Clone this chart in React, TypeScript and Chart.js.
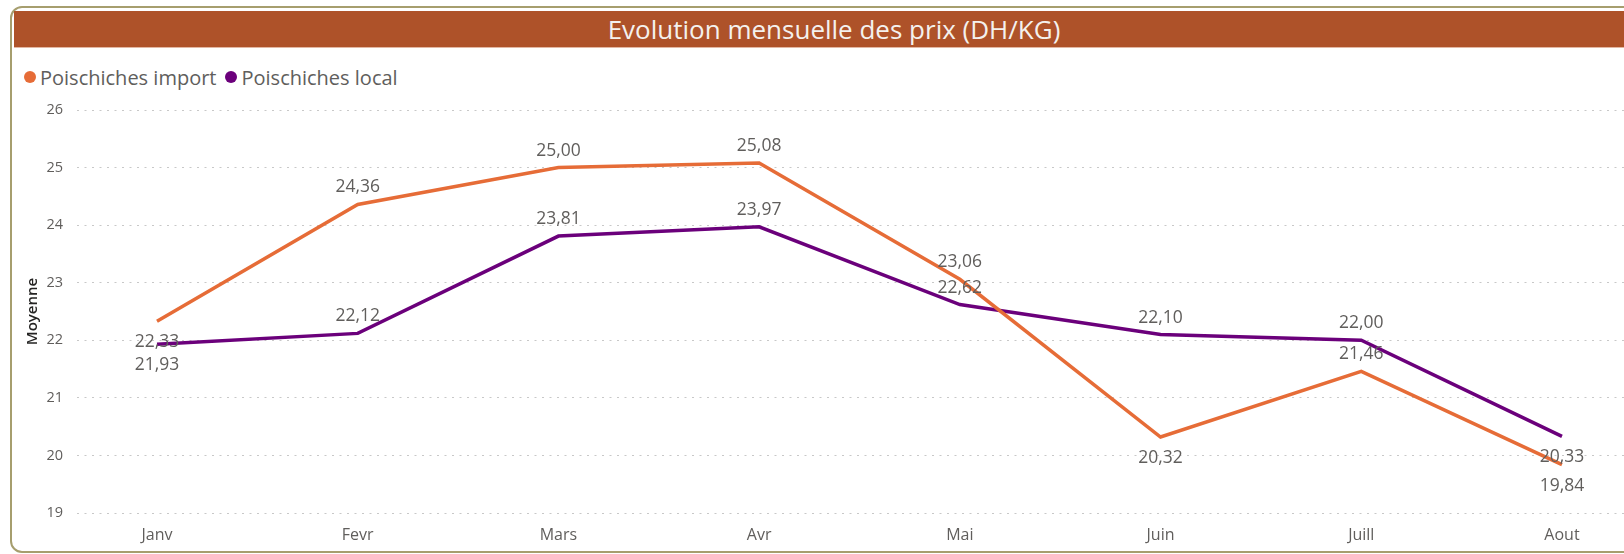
import React, { useEffect, useRef } from "react";
import { Chart, registerables } from "chart.js";

Chart.register(...registerables);

const months = ["Janv", "Fevr", "Mars", "Avr", "Mai", "Juin", "Juill", "Aout"];
const importValues = [22.33, 24.36, 25.0, 25.08, 23.06, 20.32, 21.46, 19.84];
const localValues = [21.93, 22.12, 23.81, 23.97, 22.62, 22.1, 22.0, 20.33];
const yTicks = [19, 20, 21, 22, 23, 24, 25, 26];
const seriesNames = ["Poischiches import", "Poischiches local"];

// label placement (style only)
const importLabelPos = ["below", "above", "above", "above", "above", "below", "above", "below"];
const localLabelPos = ["below", "above", "above", "above", "above", "above", "above", "below"];

const ORANGE = "#E66C37";
const PURPLE = "#6B007B";
const TEXT = "#605E5C";
const FONT = "'Open Sans', 'Noto Sans', sans-serif";

const fmt = (v: number) => v.toFixed(2).replace(".", ",");

const labelPlugin = {
  id: "pbiLabels",
  afterDatasetsDraw(chart: any) {
    const ctx = chart.ctx;
    ctx.save();
    ctx.font = `17.5px ${FONT}`;
    ctx.fillStyle = TEXT;
    ctx.textAlign = "center";
    ctx.textBaseline = "middle";
    const posSets = [importLabelPos, localLabelPos];
    chart.data.datasets.forEach((ds: any, di: number) => {
      const meta = chart.getDatasetMeta(di);
      meta.data.forEach((pt: any, i: number) => {
        const pos = posSets[di][i];
        const y = pos === "above" ? pt.y - 17 : pt.y + 21;
        ctx.fillText(fmt(ds.data[i].y), pt.x, y);
      });
    });
    ctx.restore();
  },
};

export default function App() {
  const ref = useRef<HTMLCanvasElement | null>(null);
  useEffect(() => {
    if (!ref.current) return;
    const chart = new Chart(ref.current, {
      type: "line",
      data: {
        datasets: [
          {
            label: seriesNames[0],
            data: importValues.map((v, i) => ({ x: i, y: v })),
            borderColor: ORANGE,
            backgroundColor: ORANGE,
            borderWidth: 3.5,
            pointRadius: 0,
            tension: 0,
          },
          {
            label: seriesNames[1],
            data: localValues.map((v, i) => ({ x: i, y: v })),
            borderColor: PURPLE,
            backgroundColor: PURPLE,
            borderWidth: 3.5,
            pointRadius: 0,
            tension: 0,
          },
        ],
      },
      options: {
        animation: false,
        responsive: false,
        maintainAspectRatio: false,
        layout: { padding: { top: 110, left: 0, right: 0, bottom: 0 } },
        plugins: {
          legend: { display: false },
          tooltip: { enabled: false },
        },
        scales: {
          x: {
            type: "linear",
            min: -0.3986,
            max: 7.309,
            grid: { display: false },
            border: { display: false },
            afterFit: (s: any) => {
              s.height = 41;
            },
            afterBuildTicks: (s: any) => {
              s.ticks = months.map((_, i) => ({ value: i }));
            },
            ticks: {
              autoSkip: false,
              maxRotation: 0,
              padding: 5,
              color: TEXT,
              font: { family: FONT, size: 16 },
              callback: (v: any) => months[v] ?? "",
            },
          },
          y: {
            min: yTicks[0],
            max: yTicks[yTicks.length - 1],
            afterFit: (s: any) => {
              s.width = 77;
            },
            afterBuildTicks: (s: any) => {
              s.ticks = yTicks.map((v) => ({ value: v }));
            },
            grid: { color: "#C8C8C8", lineWidth: 1, drawTicks: false },
            border: { display: false, dash: [2, 5.5] },
            ticks: {
              padding: 14,
              color: TEXT,
              font: { family: FONT, size: 14.5 },
            },
            title: {
              display: true,
              text: "Moyenne",
              color: "#252423",
              font: { family: FONT, size: 15, weight: "600" },
              padding: { top: 24, bottom: 0 },
            },
          },
        },
      },
      plugins: [labelPlugin],
    } as any);
    return () => chart.destroy();
  }, []);

  const legendItem = (name: string, color: string) => (
    <div style={{ display: "flex", alignItems: "center", marginRight: 9 }}>
      <span
        style={{
          width: 12,
          height: 12,
          borderRadius: "50%",
          background: color,
          display: "inline-block",
          marginRight: 4,
        }}
      />
      <span>{name}</span>
    </div>
  );

  return (
    <div
      style={{
        position: "fixed",
        left: 0,
        top: 0,
        width: 1624,
        height: 554,
        overflow: "hidden",
        background: "#ffffff",
        fontFamily: FONT,
      }}
    >
      <div
        style={{
          position: "absolute",
          left: 10,
          top: 6,
          width: 1660,
          height: 547,
          border: "2px solid #A69E6E",
          borderRadius: 12,
          boxSizing: "border-box",
          background: "#fff",
        }}
      />
      <div
        style={{
          position: "absolute",
          left: 14,
          top: 11,
          width: 1640,
          height: 36,
          background: "#AE5229",
          borderBottom: "1px solid #E3B7A2",
          color: "#F4F1EE",
          fontSize: 26,
          lineHeight: "36px",
          textAlign: "center",
          whiteSpace: "nowrap",
        }}
      >
        Evolution mensuelle des prix (DH/KG)
      </div>
      <div
        style={{
          position: "absolute",
          left: 24,
          top: 64,
          height: 26,
          display: "flex",
          alignItems: "center",
          fontSize: 20,
          color: TEXT,
        }}
      >
        {legendItem(seriesNames[0], ORANGE)}
        {legendItem(seriesNames[1], PURPLE)}
      </div>
      <canvas
        ref={ref}
        width={1624}
        height={554}
        style={{ position: "absolute", left: 0, top: 0, width: 1624, height: 554 }}
      />
    </div>
  );
}
